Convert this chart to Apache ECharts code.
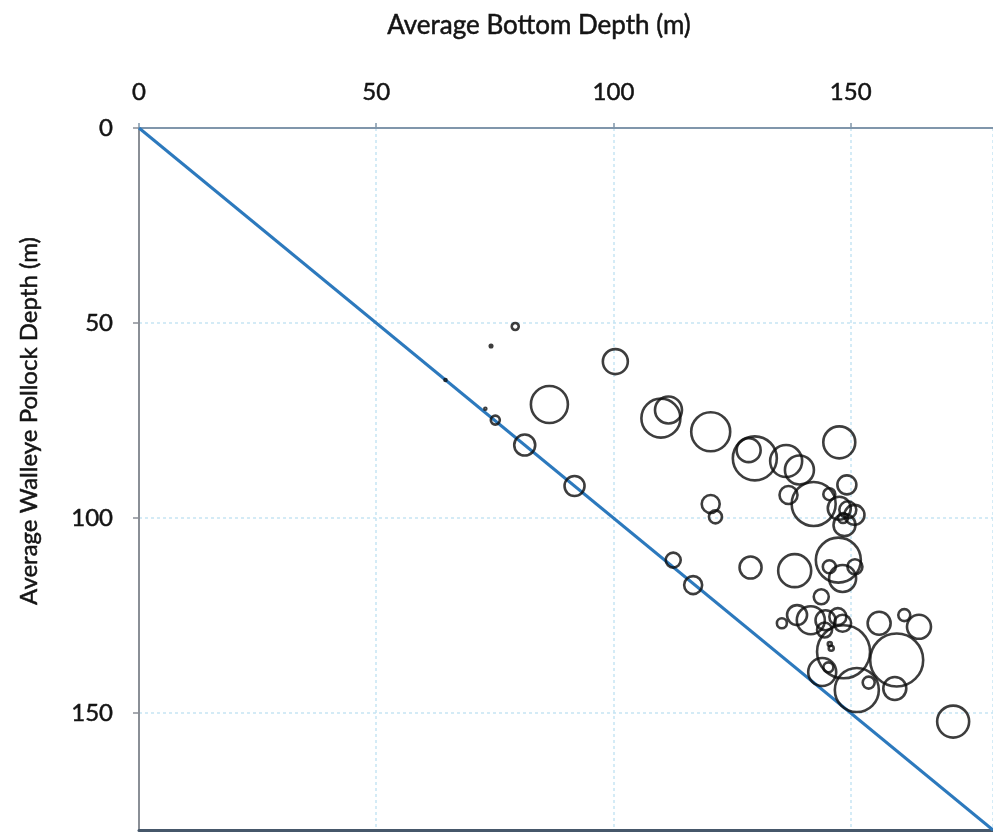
<!DOCTYPE html>
<html>
<head>
<meta charset="utf-8">
<title>Average Walleye Pollock Depth vs Average Bottom Depth</title>
<script src="https://cdn.jsdelivr.net/npm/echarts@6/dist/echarts.min.js"></script>
<style>
  html, body { margin: 0; padding: 0; background: #ffffff; }
  #chart { width: 993px; height: 834px; }
</style>
</head>
<body>
<div id="chart"></div>
<script>
// Average bottom depth (m) for each haul group
const bottomDepth = [
  79.3, 74.2, 64.6, 73.0, 100.4, 86.5, 75.1, 81.3, 91.8, 110.0,
  111.6, 120.5, 129.8, 128.5, 136.4, 139.2, 147.6, 136.9, 142.2, 149.2,
  145.5, 147.6, 149.4, 150.8, 148.7, 148.4, 120.5, 121.5, 112.6, 116.8,
  128.9, 138.2, 147.4, 145.5, 150.9, 148.3, 143.8, 135.5, 138.7, 141.6,
  144.7, 147.3, 148.3, 144.5, 156.0, 161.3, 164.4, 159.7, 148.5, 144.0,
  145.3, 145.9, 145.6, 151.3, 153.8, 159.3, 171.6
];
// Average walleye pollock depth (m)
const pollockDepth = [
  50.9, 55.9, 64.6, 72.0, 59.9, 70.9, 74.9, 81.3, 91.8, 74.4,
  72.3, 77.9, 84.7, 82.6, 85.4, 87.7, 80.6, 94.1, 96.4, 91.5,
  93.9, 97.5, 97.9, 99.2, 101.8, 100.0, 96.4, 99.7, 110.8, 117.2,
  112.7, 113.5, 110.8, 112.5, 112.5, 115.5, 120.2, 127.0, 124.9, 126.2,
  126.2, 125.3, 127.0, 128.7, 127.0, 124.9, 127.9, 136.4, 134.3, 139.5,
  138.3, 133.4, 132.3, 144.1, 142.2, 143.7, 152.2
];
// Relative catch magnitude shown as bubble diameter
const catchMagnitude = [
  7, 2.5, 2, 2, 25, 37, 9, 21, 20, 39,
  27, 39, 44, 24, 32, 29, 32, 18, 44, 19,
  12, 23, 17, 20, 22, 10, 18, 13, 15, 18,
  22, 33, 45, 13, 15, 27, 15, 10, 20, 28,
  20, 17, 17, 15, 23, 12, 24, 53, 53, 28,
  10, 5, 4, 44, 12, 23, 32
];
// 1:1 reference line (pollock at the bottom)
const oneToOne = [[0, 0], [180, 180]];
const xTicks = [0, 50, 100, 150];
const yTicks = [0, 50, 100, 150];

const bubbles = bottomDepth.map((x, i) => [x, pollockDepth[i], catchMagnitude[i]]);

const FONT = 'Lato, "Open Sans", sans-serif';
const TEXT = '#141414';
const chart = echarts.init(document.getElementById('chart'));

const gridLine = { show: true, lineStyle: { color: '#c6e5f3', width: 1.5, type: [3, 3] } };
const labelStyle = {
  fontSize: 24, fontFamily: FONT, color: TEXT,
  textBorderColor: TEXT, textBorderWidth: 0.5,
  showMaxLabel: false
};

chart.setOption({
  animation: false,
  backgroundColor: '#ffffff',
  grid: { left: 139, top: 128, width: 857, height: 702, containLabel: false },
  xAxis: [
    {
      type: 'value',
      position: 'top',
      min: 0, max: 180, interval: 50,
      axisLine: { show: true, onZero: false, lineStyle: { color: '#8096ab', width: 2 } },
      axisTick: { show: true, length: 5, lineStyle: { color: '#8096ab', width: 1.5 } },
      axisLabel: Object.assign({ margin: 24, formatter: v => (xTicks.includes(v) ? String(v) : '') }, labelStyle),
      splitLine: gridLine
    },
    {
      type: 'value',
      position: 'bottom',
      min: 0, max: 180,
      axisLine: { show: true, onZero: false, lineStyle: { color: '#46576a', width: 3 } },
      axisTick: { show: false },
      axisLabel: { show: false },
      splitLine: { show: false }
    }
  ],
  yAxis: {
    type: 'value',
    inverse: true,
    min: 0, max: 180, interval: 50,
    axisLine: { show: true, onZero: false, lineStyle: { color: '#8a8f96', width: 2 } },
    axisTick: { show: true, length: 6, lineStyle: { color: '#8a8f96', width: 1.5 } },
    axisLabel: Object.assign({ margin: 26, formatter: v => (yTicks.includes(v) ? String(v) : '') }, labelStyle),
    splitLine: gridLine
  },
  graphic: [
    {
      type: 'text', x: 539, y: 26,
      style: {
        text: 'Average Bottom Depth (m)',
        font: '26px ' + FONT, fill: TEXT, stroke: TEXT, lineWidth: 0.5,
        textAlign: 'center', textVerticalAlign: 'middle'
      }
    },
    {
      type: 'text', x: 29, y: 421, rotation: Math.PI / 2,
      style: {
        text: 'Average Walleye Pollock Depth (m)',
        font: '24px ' + FONT, fill: TEXT, stroke: TEXT, lineWidth: 0.5,
        textAlign: 'center', textVerticalAlign: 'middle'
      }
    }
  ],
  series: [
    {
      type: 'line',
      data: oneToOne,
      symbol: 'none',
      silent: true,
      lineStyle: { color: '#2c79bd', width: 3 },
      z: 2
    },
    {
      type: 'scatter',
      data: bubbles,
      symbol: 'circle',
      symbolSize: d => d[2],
      silent: true,
      itemStyle: { color: 'rgba(0,0,0,0)', borderColor: '#0d0d0d', borderWidth: 2.6 },
      z: 3
    }
  ]
});
</script>
</body>
</html>
